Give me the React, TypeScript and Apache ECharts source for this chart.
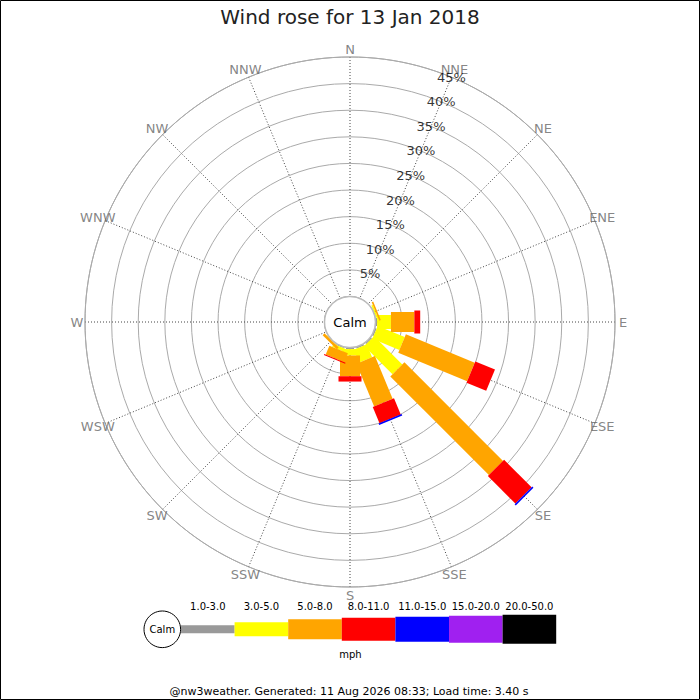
import React, { useEffect, useRef } from "react";
import * as echarts from "echarts";

// ---- data ----
const TITLE = "Wind rose for 13 Jan 2018";
const DIRECTIONS = ["N", "NNE", "NE", "ENE", "E", "ESE", "SE", "SSE", "S", "SSW", "SW", "WSW", "W", "WNW", "NW", "NNW"];
const BANDS = ["1.0-3.0", "3.0-5.0", "5.0-8.0", "8.0-11.0", "11.0-15.0", "15.0-20.0", "20.0-50.0"];
const PCT_TICKS = [5, 10, 15, 20, 25, 30, 35, 40, 45];
// percentage of time per direction, for each speed band (mph)
const band1to3 = [0, 0, 0, 0.1, 0.3, 0.3, 0.3, 0.3, 0.3, 0.2, 0, 0, 0, 0, 0, 0];
const band3to5 = [0, 0, 0, 0.3, 2.6, 5.5, 7.5, 2.6, 1.2, 0.6, 0.1, 0, 0, 0, 0, 0];
const band5to8 = [0, 0, 0, 0.3, 4.4, 14.0, 26.2, 8.7, 3.9, 1.8, 0.5, 0, 0, 0, 0, 0];
const band8to11 = [0, 0, 0, 0, 1.1, 4.0, 7.3, 3.3, 1.0, 0.2, 0, 0, 0, 0, 0, 0];
const band11to15 = [0, 0, 0, 0, 0, 0, 0.3, 0.3, 0, 0, 0, 0, 0, 0, 0, 0];
const band15to20 = [0, 0, 0, 0, 0, 0, 0, 0, 0, 0, 0, 0, 0, 0, 0, 0];
const band20to50 = [0, 0, 0, 0, 0, 0, 0, 0, 0, 0, 0, 0, 0, 0, 0, 0];
const BAND_VALUES = [band1to3, band3to5, band5to8, band8to11, band11to15, band15to20, band20to50];
const FOOTER = "@nw3weather. Generated: 11 Aug 2026 08:33; Load time: 3.40 s";

// ---- styles ----
const BAND_COLORS = ["#999999", "#ffff00", "#ffa500", "#ff0000", "#0000ff", "#a020f0", "#000000"];
const BAND_WIDTHS = [8, 14, 20, 23, 25, 27, 29];
const FONT = "DejaVu Sans";
const CX = 350;
const CY = 322;
const R0 = 25.5;
const R1 = 265;
const R_LABEL = 273;

function buildBarData() {
  const out: number[][] = [];
  const cum = DIRECTIONS.map(() => 0);
  const starts: number[][] = BAND_VALUES.map(() => DIRECTIONS.map(() => 0));
  BAND_VALUES.forEach((vals, b) => {
    vals.forEach((v, d) => {
      starts[b][d] = cum[d];
      cum[d] += v;
    });
  });
  BAND_VALUES.forEach((vals, b) => {
    for (let d = DIRECTIONS.length - 1; d >= 0; d--) {
      const v = vals[d];
      if (v > 0) out.push([starts[b][d], d * 22.5, starts[b][d] + v, b]);
    }
  });
  return out;
}

export default function App() {
  const ref = useRef<HTMLDivElement>(null);
  useEffect(() => {
    if (!ref.current) return;
    const chart = echarts.init(ref.current, null, { renderer: "svg" });

    const legendX0 = 181;
    const legendStep = 53.6;
    const legendCY = 629.3;
    const legendGraphics: any[] = [];
    BANDS.forEach((name, i) => {
      const h = BAND_WIDTHS[i];
      legendGraphics.push({
        type: "rect",
        shape: { x: legendX0 + i * legendStep, y: legendCY - h / 2, width: legendStep, height: h },
        style: { fill: BAND_COLORS[i] },
      });
      legendGraphics.push({
        type: "text",
        x: legendX0 + i * legendStep + legendStep / 2,
        y: 606.5,
        style: { text: name, font: `10px '${FONT}'`, fill: "#000", align: "center", verticalAlign: "middle" },
      });
    });

    const hiddenAxis = {
      axisLine: { show: false },
      axisTick: { show: false },
      axisLabel: { show: false },
      splitLine: { show: false },
    };

    const option: any = {
      animation: false,
      backgroundColor: "#ffffff",
      title: {
        text: TITLE,
        left: "center",
        top: 2,
        textStyle: { fontFamily: FONT, fontSize: 20, fontWeight: "normal", color: "#222" },
      },
      polar: [
        { center: [CX, CY], radius: [R0, R1] },
        { center: [CX, CY], radius: [0, R_LABEL] },
      ],
      radiusAxis: [
        {
          polarIndex: 0,
          type: "value",
          min: 0,
          max: 45,
          interval: 5,
          axisLine: { show: false },
          axisTick: { show: false },
          axisLabel: { show: false },
          splitLine: { show: true, lineStyle: { color: "#aaaaaa", width: 1 } },
        },
        { polarIndex: 1, type: "value", min: 0, max: 1, ...hiddenAxis },
      ],
      angleAxis: [
        {
          polarIndex: 0,
          type: "value",
          min: 0,
          max: 360,
          interval: 22.5,
          startAngle: 90,
          clockwise: true,
          axisLine: { show: true, lineStyle: { color: "#aaaaaa", width: 1 } },
          axisTick: { show: false },
          axisLabel: { show: false },
          splitLine: { show: true, lineStyle: { color: "#444444", width: 1, type: [1, 2] } },
        },
        {
          polarIndex: 1,
          type: "value",
          min: 0,
          max: 360,
          interval: 22.5,
          startAngle: 90,
          clockwise: true,
          ...hiddenAxis,
        },
      ],
      series: [
        {
          type: "custom",
          coordinateSystem: "polar",
          polarIndex: 0,
          silent: true,
          data: buildBarData(),
          renderItem: (params: any, api: any) => {
            const start = api.value(0);
            const ang = api.value(1);
            const end = api.value(2);
            const b = api.value(3);
            const c = api.coord([0, ang]);
            const f = api.coord([45, ang]);
            const len = Math.hypot(f[0] - c[0], f[1] - c[1]) || 1;
            const ux = (f[0] - c[0]) / len;
            const uy = (f[1] - c[1]) / len;
            const hw = BAND_WIDTHS[b] / 2;
            const nx = -uy * hw;
            const ny = ux * hw;
            const p0 = api.coord([start, ang]);
            const p1 = api.coord([end, ang]);
            return {
              type: "polygon",
              shape: {
                points: [
                  [p0[0] + nx, p0[1] + ny],
                  [p1[0] + nx, p1[1] + ny],
                  [p1[0] - nx, p1[1] - ny],
                  [p0[0] - nx, p0[1] - ny],
                ],
              },
              style: { fill: BAND_COLORS[b] },
            };
          },
          z: 3,
        },
        {
          type: "scatter",
          coordinateSystem: "polar",
          polarIndex: 1,
          silent: true,
          symbolSize: 0,
          data: DIRECTIONS.map((_, d) => [1, d * 22.5]),
          label: {
            show: true,
            position: "inside",
            formatter: (p: any) => DIRECTIONS[p.dataIndex],
            fontFamily: FONT,
            fontSize: 13,
            color: "#666666",
          },
          z: 4,
        },
        {
          type: "scatter",
          coordinateSystem: "polar",
          polarIndex: 0,
          silent: true,
          symbolSize: 0,
          data: PCT_TICKS.map((t) => [t, 22.5]),
          label: {
            show: true,
            position: "inside",
            formatter: (p: any) => `${PCT_TICKS[p.dataIndex]}%`,
            fontFamily: FONT,
            fontSize: 13,
            color: "#000000",
          },
          z: 5,
        },
      ],
      graphic: [
        {
          type: "circle",
          shape: { cx: CX, cy: CY, r: R0 },
          style: { fill: "#ffffff", stroke: "#bbbbbb", lineWidth: 1.5 },
          z: 10,
        },
        {
          type: "text",
          x: CX,
          y: CY,
          style: { text: "Calm", font: `13px '${FONT}'`, fill: "#000", align: "center", verticalAlign: "middle" },
          z: 11,
        },
        {
          type: "rect",
          shape: { x: 0.5, y: 0.5, width: 699, height: 699 },
          style: { fill: "none", stroke: "#000", lineWidth: 1 },
          z: 20,
        },
        ...legendGraphics,
        {
          type: "circle",
          shape: { cx: 162.3, cy: legendCY, r: 18.3 },
          style: { fill: "#ffffff", stroke: "#000", lineWidth: 1 },
          z: 12,
        },
        {
          type: "text",
          x: 162.3,
          y: legendCY,
          style: { text: "Calm", font: `10px '${FONT}'`, fill: "#000", align: "center", verticalAlign: "middle" },
          z: 13,
        },
        {
          type: "text",
          x: 350.5,
          y: 654,
          style: { text: "mph", font: `10px '${FONT}'`, fill: "#000", align: "center", verticalAlign: "middle" },
        },
        {
          type: "text",
          x: 349,
          y: 691,
          style: { text: FOOTER, font: `11px '${FONT}'`, fill: "#000", align: "center", verticalAlign: "middle" },
        },
      ],
    };
    chart.setOption(option);
    return () => chart.dispose();
  }, []);
  return (
    <div
      ref={ref}
      style={{ position: "fixed", left: 0, top: 0, width: 700, height: 700, background: "#fff" }}
    />
  );
}
